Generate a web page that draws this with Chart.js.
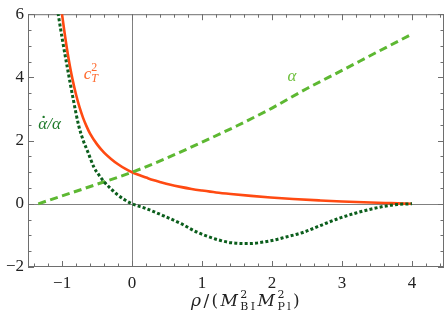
<!DOCTYPE html>
<html>
<head>
<meta charset="utf-8">
<script src="https://cdn.jsdelivr.net/npm/chart.js@4.4.1/dist/chart.umd.min.js"></script>
<style>
  html, body { margin: 0; padding: 0; background: #fff; }
  #wrap { width: 447px; height: 321px; }
</style>
</head>
<body>
<div id="wrap"><canvas id="plot"></canvas></div>
<script>
// tick labels
const xTicks = [-1, 0, 1, 2, 3, 4];
const yTicks = [-2, 0, 2, 4, 6];

// c_T^2 (solid orange)
const rhoC = [-1.01, -0.97, -0.93, -0.89, -0.85, -0.8, -0.75, -0.7, -0.65, -0.6, -0.5, -0.4, -0.3, -0.2, -0.1, 0,
              0.1, 0.2, 0.3, 0.41, 0.55, 0.69, 0.85, 1.0, 1.2, 1.41, 1.7, 1.98, 2.3, 2.69, 3.0, 3.41, 3.7, 4.0];
const cT2  = [6.15, 5.5, 4.9, 4.38, 3.93, 3.45, 3.05, 2.72, 2.45, 2.22, 1.88, 1.62, 1.42, 1.25, 1.11, 1.0,
              0.91, 0.83, 0.75, 0.68, 0.6, 0.535, 0.47, 0.42, 0.36, 0.31, 0.25, 0.2, 0.15, 0.105, 0.075, 0.04, 0.02, 0.0];

// alpha (dashed light green)
const rhoA  = [-1.34, -1.0, -0.5, 0, 0.5, 1.0, 1.5, 2.0, 2.5, 3.0, 3.5, 4.0];
const alpha = [0.0, 0.25, 0.62, 1.0, 1.45, 1.95, 2.47, 3.03, 3.65, 4.22, 4.8, 5.37];

// alpha-dot / alpha (dotted dark green)
const rhoD     = [-1.07, -1.0, -0.92, -0.84, -0.76, -0.7, -0.63, -0.545, -0.47, -0.4, -0.3, -0.21, -0.1, 0,
                  0.2, 0.45, 0.7, 0.93, 1.2, 1.41, 1.65, 1.98, 2.2, 2.45, 2.7, 2.93, 3.2, 3.41, 3.6, 3.79, 4.0];
const alphaDot = [6.2, 5.25, 4.25, 3.3, 2.45, 2.02, 1.63, 1.16, 0.9, 0.7, 0.47, 0.29, 0.12, 0.0,
                  -0.15, -0.38, -0.63, -0.9, -1.12, -1.23, -1.26, -1.17, -1.05, -0.9, -0.68, -0.48, -0.29, -0.17, -0.08, -0.02, 0.0];

const pts = (xs, ys) => xs.map((x, i) => ({ x: x, y: ys[i] }));
const minus = v => String(v).replace('-', '\u2212');

const SERIF = '"Liberation Serif", serif';
const WIDE = '"DejaVu Serif", serif';

// [text, font, dy, stackWithNext, dotAbove]
const curveLabels = [
  { x: -0.69, y: 3.95, color: '#ff6a2e', gap: 0, parts: [['c', 'italic 17px ' + SERIF, 0], ['2', '12px ' + SERIF, -8, true], ['T', 'italic 12px ' + SERIF, 3]] },
  { x: 2.22, y: 3.9, color: '#6cbf3a', gap: 0, parts: [['\u03b1', 'italic 17px ' + SERIF, 0]] },
  { x: -1.34, y: 2.37, color: '#1e7a2a', gap: 0, parts: [['\u03b1', 'italic 17px ' + SERIF, 0, false, true], ['/\u03b1', 'italic 17px ' + SERIF, 0]] }
];

function drawParts(ctx, parts, x, y, gap) {
  let cx = x, held = 0;
  parts.forEach(p => {
    ctx.font = p[1];
    let w = 0;
    for (const ch of p[0]) {
      ctx.fillText(ch, cx + w, y + p[2]);
      w += ctx.measureText(ch).width + gap;
    }
    if (p[4]) {
      ctx.beginPath();
      ctx.arc(cx + w * 0.6, y - 12, 1.2, 0, Math.PI * 2);
      ctx.fill();
    }
    if (p[3]) { held = w; }
    else { cx += Math.max(w, held); held = 0; }
  });
  return cx;
}

const framePlugin = {
  id: 'frame',
  beforeDatasetsDraw(chart) {
    const { ctx, chartArea: a, scales: { x, y } } = chart;
    ctx.save();
    // axes through origin
    ctx.strokeStyle = '#808080';
    ctx.lineWidth = 1;
    ctx.beginPath();
    const x0 = Math.round(x.getPixelForValue(0)) + 0.5;
    const y0 = Math.round(y.getPixelForValue(0)) + 0.5;
    ctx.moveTo(x0, a.top); ctx.lineTo(x0, a.bottom);
    ctx.moveTo(a.left, y0); ctx.lineTo(a.right, y0);
    ctx.stroke();

    // frame
    ctx.strokeStyle = '#6e6e6e';
    ctx.strokeRect(a.left + 0.5, a.top + 0.5, a.right - a.left - 1, a.bottom - a.top - 1);

    // inward ticks on all sides
    ctx.beginPath();
    for (let i = -7; i <= 22; i++) {
      const px = Math.round(x.getPixelForValue(i * 0.2)) + 0.5;
      if (px < a.left || px > a.right) continue;
      const len = (i % 5 === 0) ? 6 : 3.5;
      ctx.moveTo(px, a.bottom); ctx.lineTo(px, a.bottom - len);
      ctx.moveTo(px, a.top); ctx.lineTo(px, a.top + len);
    }
    for (let j = -4; j <= 12; j++) {
      const py = Math.round(y.getPixelForValue(j * 0.5)) + 0.5;
      const len = (j % 4 === 0) ? 6 : 3.5;
      ctx.moveTo(a.left, py); ctx.lineTo(a.left + len, py);
      ctx.moveTo(a.right, py); ctx.lineTo(a.right - len, py);
    }
    ctx.stroke();
    ctx.restore();
  },
  afterDatasetsDraw(chart) {
    const { ctx, scales: { x, y } } = chart;
    ctx.save();
    ctx.textBaseline = 'alphabetic';
    ctx.textAlign = 'left';
    curveLabels.forEach(l => {
      ctx.fillStyle = l.color;
      drawParts(ctx, l.parts, x.getPixelForValue(l.x), y.getPixelForValue(l.y), l.gap);
    });

    // axis title: rho/(M_BI^2 M_Pl^2)
    ctx.fillStyle = '#222';
    const title = [
      ['\u03c1', 'italic 17px ' + WIDE, 0],
      ['/(', '17px ' + WIDE, 0],
      ['M', 'italic 17px ' + WIDE, 0],
      ['2', '11px ' + WIDE, -8, true],
      ['BI', '11px ' + WIDE, 4],
      ['M', 'italic 17px ' + WIDE, 0],
      ['2', '11px ' + WIDE, -8, true],
      ['Pl', '11px ' + WIDE, 4],
      [')', '17px ' + WIDE, 0]
    ];
    drawParts(ctx, title, 191, 306, 2.4);
    ctx.restore();
  }
};

new Chart(document.getElementById('plot'), {
  type: 'line',
  data: {
    datasets: [
      {
        data: pts(rhoD, alphaDot),
        borderColor: '#0b5e1c',
        borderWidth: 3,
        borderDash: [3, 2.2],
        cubicInterpolationMode: 'monotone',
        pointRadius: 0
      },
      {
        data: pts(rhoA, alpha),
        borderColor: '#5db832',
        borderWidth: 3,
        borderDash: [8, 4.5],
        cubicInterpolationMode: 'monotone',
        pointRadius: 0
      },
      {
        data: pts(rhoC, cT2),
        borderColor: '#ff4a12',
        borderWidth: 2.6,
        cubicInterpolationMode: 'monotone',
        pointRadius: 0
      }
    ]
  },
  options: {
    responsive: true,
    maintainAspectRatio: false,
    animation: false,
    events: [],
    layout: { padding: { top: 8, right: 3, left: 0, bottom: 0 } },
    plugins: { legend: { display: false }, tooltip: { enabled: false } },
    scales: {
      x: {
        type: 'linear',
        min: -1.487,
        max: 4.457,
        afterBuildTicks: s => { s.ticks = xTicks.map(v => ({ value: v })); },
        afterFit: s => { s.height = 54; },
        grid: { display: false, drawTicks: false },
        border: { display: false },
        ticks: {
          padding: 6,
          color: '#222',
          font: { family: SERIF, size: 17 },
          maxRotation: 0,
          callback: v => minus(v)
        }
      },
      y: {
        type: 'linear',
        min: -2,
        max: 6,
        afterBuildTicks: s => { s.ticks = yTicks.map(v => ({ value: v })); },
        afterFit: s => { s.width = 28; },
        grid: { display: false, drawTicks: false },
        border: { display: false },
        ticks: {
          padding: 4,
          color: '#222',
          font: { family: SERIF, size: 17 },
          callback: v => minus(v)
        }
      }
    }
  },
  plugins: [framePlugin]
});
</script>
</body>
</html>
